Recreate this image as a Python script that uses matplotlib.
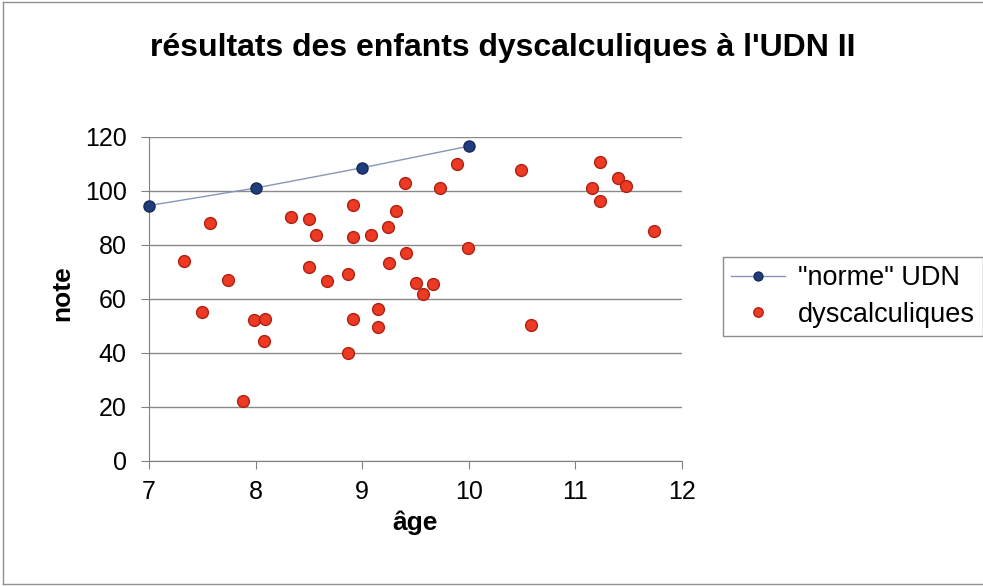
import matplotlib
matplotlib.use('Agg')
import matplotlib.pyplot as plt
from matplotlib.lines import Line2D

plt.rcParams['font.family'] = ['Liberation Sans', 'DejaVu Sans']

# "norme" UDN
norme_age = [7, 8, 9, 10]
norme_note = [94.5, 101, 108.5, 116.5]

# dyscalculiques
dys_age = [7.33, 7.50, 7.57, 7.74, 7.88, 7.985, 8.09, 8.08, 8.33, 8.50,
           8.50, 8.57, 8.67, 8.87, 8.87, 8.91, 8.91, 8.91, 9.08, 9.15,
           9.15, 9.245, 9.25, 9.32, 9.40, 9.41, 9.50, 9.57, 9.66, 9.73,
           9.886, 9.995, 10.49, 10.58, 11.16, 11.23, 11.23, 11.40, 11.47, 11.74]
dys_note = [74, 55, 88, 67, 22, 52, 52.5, 44.4, 90.4, 89.5,
            71.9, 83.7, 66.6, 69, 40, 94.7, 83, 52.5, 83.6, 56.3,
            49.6, 86.7, 73.3, 92.6, 102.7, 77, 65.9, 61.6, 65.3, 101.1,
            110, 78.7, 107.8, 50.3, 101, 110.6, 96.3, 104.8, 101.7, 85.1]

fig = plt.figure(figsize=(9.83, 5.86), dpi=100)
ax = fig.add_axes([0.1516, 0.2138, 0.5422, 0.5529])

ax.plot(norme_age, norme_note, color='#8796b8', linewidth=1, marker='o',
        markersize=8, markerfacecolor='#1f3c7c', markeredgecolor='#15295a',
        label='"norme" UDN', zorder=3, clip_on=False)
ax.plot(dys_age, dys_note, linestyle='none', marker='o', markersize=8.5,
        markerfacecolor='#ec3a24', markeredgecolor='#b02010',
        label='dyscalculiques', zorder=3)

ax.set_xlim(7, 12)
ax.set_ylim(0, 120)
ax.set_xticks(range(7, 13))
ax.set_yticks(range(0, 121, 20))
ax.yaxis.grid(True, color='#8a8a8a', linewidth=1)
ax.set_axisbelow(True)
for s in ['top', 'right']:
    ax.spines[s].set_visible(False)
for s in ['left', 'bottom']:
    ax.spines[s].set_color('#808080')
ax.tick_params(labelsize=18, colors='#808080', labelcolor='black', length=6)
ax.tick_params(axis='x', pad=8)
ax.tick_params(axis='y', pad=10)

fig.text(0.511, 0.918, "résultats des enfants dyscalculiques à l'UDN II",
         ha='center', va='center', fontsize=23, fontweight='bold')
fig.text(0.063, 0.5, 'note', rotation=90, ha='center', va='center',
         fontsize=19, fontweight='bold')
fig.text(0.4227, 0.108, 'âge', ha='center', va='center',
         fontsize=19, fontweight='bold')

leg = ax.legend(loc='center left', bbox_to_anchor=(1.077, 0.507), fontsize=19.5,
                frameon=True, fancybox=False, edgecolor='#707070',
                handlelength=2.0, handletextpad=0.45, borderpad=0.3,
                labelspacing=0.4, borderaxespad=0, markerscale=0.8)
leg.get_frame().set_linewidth(1)

# outer chart border (right side cropped in the original)
for xs, ys in [([0.003, 0.003], [0.003, 0.997]),
               ([0.003, 1.0], [0.997, 0.997]),
               ([0.003, 1.0], [0.003, 0.003])]:
    fig.add_artist(Line2D(xs, ys, transform=fig.transFigure,
                          color='#909090', linewidth=1))

fig.savefig('out.png', dpi=100)
